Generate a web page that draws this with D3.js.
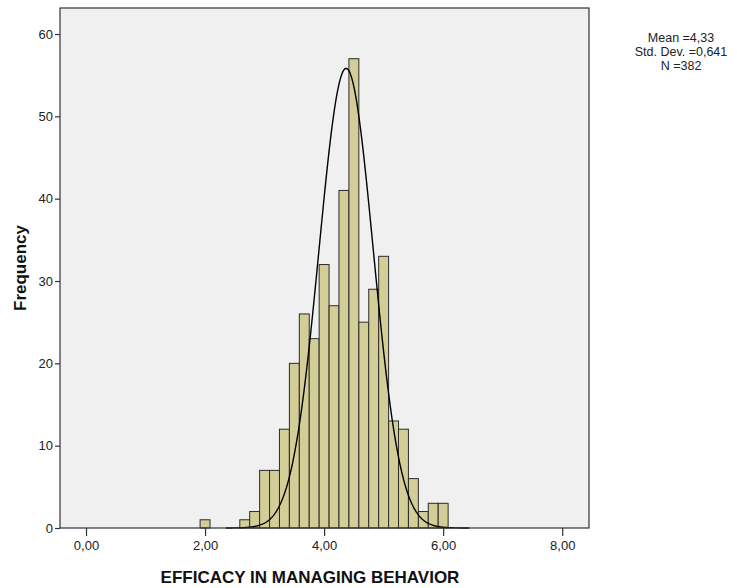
<!DOCTYPE html>
<html>
<head>
<meta charset="utf-8">
<script src="https://cdn.jsdelivr.net/npm/d3@7"></script>
<style>
  html, body { margin: 0; padding: 0; background: #ffffff; }
  svg { display: block; font-family: "Liberation Sans", Arial, sans-serif; }
</style>
</head>
<body>
<svg id="chart" width="737" height="588"></svg>
<script>
// ---- data ----
const binCenters = [2.000, 2.667, 2.833, 3.000, 3.167, 3.333, 3.500, 3.667, 3.833, 4.000, 4.167,
                    4.333, 4.500, 4.667, 4.833, 5.000, 5.167, 5.333, 5.500, 5.667, 5.833, 6.000];
const counts     = [1, 1, 2, 7, 7, 12, 20, 26, 23, 32, 27,
                    41, 57, 25, 29, 33, 13, 12, 6, 2, 3, 3];
const binWidth = 1 / 6;
const xTicks = [0, 2, 4, 6, 8];
const yTicks = [0, 10, 20, 30, 40, 50, 60];
const statLines = ["Mean =4,33", "Std. Dev. =0,641", "N =382"];
const curveMean = 4.37;
const curveSD = 0.455;
const nTotal = 382;
const xTitle = "EFFICACY IN MANAGING BEHAVIOR";
const yTitle = "Frequency";

// ---- layout ----
const svg = d3.select("#chart");
const plot = { left: 60, right: 589, top: 8, bottom: 528 };

const x = d3.scaleLinear().domain([-0.437, 8.45]).range([plot.left, plot.right]);
const y = d3.scaleLinear().domain([0, 63.16]).range([plot.bottom, plot.top]);

// plot background
svg.append("rect")
  .attr("x", plot.left).attr("y", plot.top)
  .attr("width", plot.right - plot.left).attr("height", plot.bottom - plot.top)
  .attr("fill", "#f0f0f0");

// bars
svg.append("g").selectAll("rect")
  .data(binCenters.map((c, i) => ({ c, n: counts[i] })))
  .join("rect")
  .attr("x", d => x(d.c - binWidth / 2))
  .attr("width", d => x(d.c + binWidth / 2) - x(d.c - binWidth / 2))
  .attr("y", d => y(d.n))
  .attr("height", d => y(0) - y(d.n))
  .attr("fill", "#d3ce97")
  .attr("stroke", "#2b2b2b")
  .attr("stroke-width", 1);

// normal curve overlay
const area = nTotal * binWidth;
const pts = d3.range(2.35, 6.45, 0.01).map(v => [v,
  area / (curveSD * Math.sqrt(2 * Math.PI)) * Math.exp(-((v - curveMean) ** 2) / (2 * curveSD * curveSD))]);
svg.append("path")
  .datum(pts)
  .attr("fill", "none")
  .attr("stroke", "#000")
  .attr("stroke-width", 1.4)
  .attr("d", d3.line().x(d => x(d[0])).y(d => y(d[1])));

// frame
svg.append("rect")
  .attr("x", plot.left).attr("y", plot.top)
  .attr("width", plot.right - plot.left).attr("height", plot.bottom - plot.top)
  .attr("fill", "none").attr("stroke", "#333").attr("stroke-width", 1.2);

// axes
const fmtX = v => d3.format(".2f")(v).replace(".", ",");
const xAxis = svg.append("g")
  .attr("transform", `translate(0,${plot.bottom})`)
  .call(d3.axisBottom(x).tickValues(xTicks).tickFormat(fmtX).tickSize(8).tickPadding(5));
const yAxis = svg.append("g")
  .attr("transform", `translate(${plot.left},0)`)
  .call(d3.axisLeft(y).tickValues(yTicks).tickSize(5).tickPadding(2));

[xAxis, yAxis].forEach(g => {
  g.select(".domain").remove();
  g.selectAll(".tick line").attr("stroke", "#333").attr("stroke-width", 1.2);
  g.selectAll(".tick text").attr("fill", "#222").style("font-size", "13px")
    .style("font-family", "'Liberation Sans', Arial, sans-serif");
});

// axis titles
svg.append("text")
  .attr("x", 310).attr("y", 583)
  .attr("text-anchor", "middle")
  .style("font-size", "17px").style("font-weight", "bold").attr("fill", "#111")
  .text(xTitle);

svg.append("text")
  .attr("transform", "translate(26,268) rotate(-90)")
  .attr("text-anchor", "middle")
  .style("font-size", "17px").style("font-weight", "bold").attr("fill", "#111")
  .text(yTitle);

// statistics box text
svg.append("g").selectAll("text")
  .data(statLines)
  .join("text")
  .attr("x", 681)
  .attr("y", (d, i) => 42 + i * 14)
  .attr("text-anchor", "middle")
  .style("font-size", "12.5px").attr("fill", "#222")
  .text(d => d);
</script>
</body>
</html>
